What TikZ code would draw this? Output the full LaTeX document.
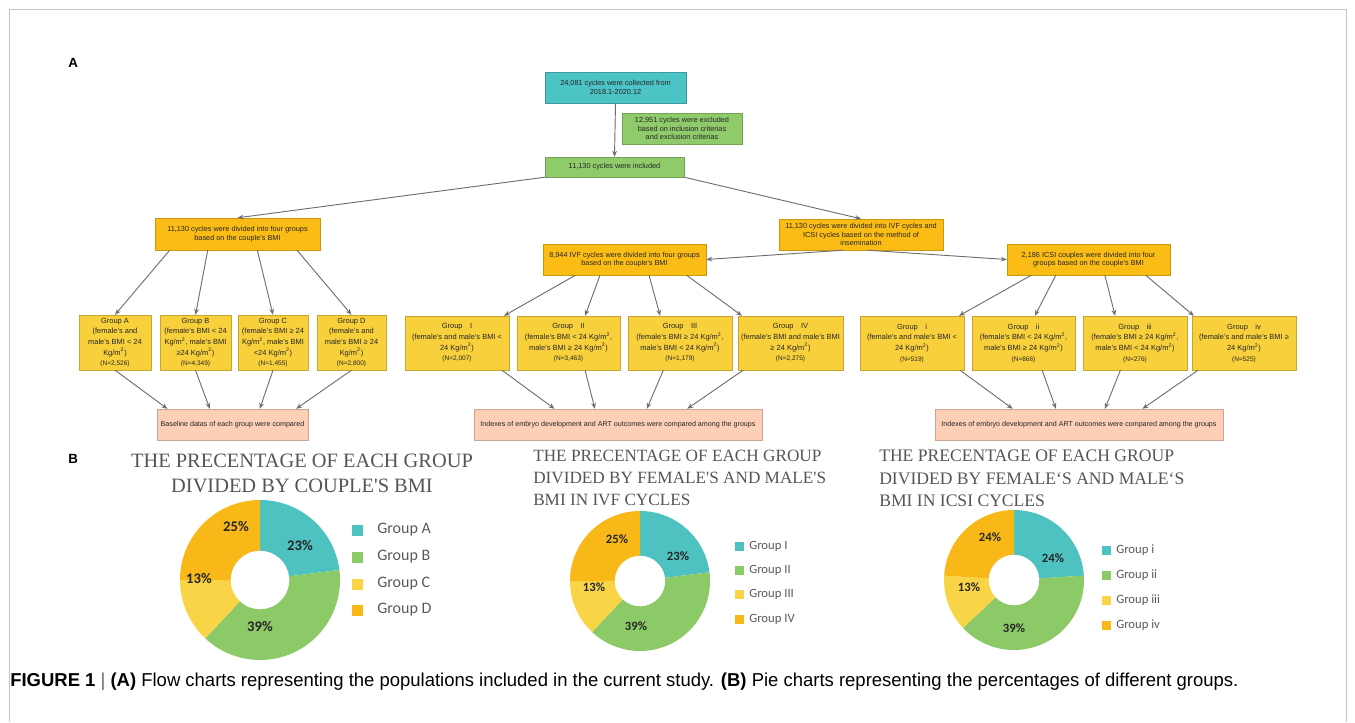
\documentclass[tikz,border=0pt]{standalone}
\usepackage{fontspec}
\setmainfont{Liberation Sans}
\newfontfamily\serifT{Liberation Serif}
\newfontfamily\carl{Carlito}
\usetikzlibrary{arrows.meta,calc}
\definecolor{cteal}{HTML}{4CC3C4}
\definecolor{cgreen}{HTML}{8FCB6B}
\definecolor{corange}{HTML}{FBBD15}
\definecolor{cyellow}{HTML}{F8D03C}
\definecolor{csalmon}{HTML}{FCCFB6}
\definecolor{carrow}{HTML}{6F6F6F}
\definecolor{pteal}{HTML}{4EC2C0}
\definecolor{pgreen}{HTML}{8CC967}
\definecolor{pyellow}{HTML}{F9D446}
\definecolor{porange}{HTML}{F8B817}
\definecolor{ttl}{HTML}{555555}
\definecolor{frame}{HTML}{C4C4C4}
\newcommand\sq{\textsuperscript{2}}
\tikzset{
  box/.style={draw=#1!80!black, fill=#1, line width=0.3pt, inner sep=0.5pt, align=center,
    font=\fontsize{5.5}{6.5}\selectfont, text=black!85},
  gbox/.style={box=cyellow, font=\fontsize{5.6}{8}\selectfont},
  rbox/.style={box=csalmon, font=\fontsize{5.35}{7}\selectfont},
  arr/.style={draw=carrow, line width=0.7pt, -{Stealth[length=4.5pt,width=3.6pt]}},
  pct/.style={font=\carl\bfseries\fontsize{#1}{#1}\selectfont, text=black!85},
  legtxt/.style={font=\carl\fontsize{#1}{#1}\selectfont, text=black!65, anchor=west, inner sep=0pt},
  ptitle/.style={font=\serifT\fontsize{#1}{#1}\selectfont, text=ttl, inner sep=0pt},
}
\newcommand\bx[7]{\node[#6, minimum width={(#4-#2)*0.75pt}, minimum height={(#5-#3)*0.75pt}] (#1) at ({(#2+#4)/2},{(#3+#5)/2}) {#7};}
\newcommand\slice[5]{\fill[#5] (#3:#1) arc[start angle=#3, end angle=#4, radius=#1] -- (#4:#2) arc[start angle=#4, end angle=#3, radius=#2] -- cycle;}
\newcommand\fr[3]{($(#1.#2 west)!#3!(#1.#2 east)$)}
\newcommand\nn[1]{{\fontsize{4.9}{5.5}\selectfont #1}}
\begin{document}
\begin{tikzpicture}[x=0.75pt,y=-0.75pt]
\useasboundingbox (0,0) rectangle (1355,722);
% frame
\draw[frame, line width=0.75pt] (9,722) -- (9,9) -- (1346,9) -- (1346,722);
% panel labels
\node[font=\bfseries\fontsize{10}{10}\selectfont, anchor=base west, inner sep=0pt] (labA) at (68,67) {A};
\node[font=\bfseries\fontsize{10}{10}\selectfont, anchor=base west, inner sep=0pt] (labB) at (68,463) {B};

% ---------- flow chart ----------
\bx{top}{545}{72}{686}{103}{box=cteal}{24,081 cycles were collected from\\2018.1-2020.12}
\bx{excl}{622}{113}{742}{144}{box=cgreen}{12,951 cycles were excluded\\based on inclusion criterias\\and exclusion criterias}
\bx{incl}{545}{157}{684}{177}{box=cgreen}{11,130 cycles were included}
\bx{div}{155}{218}{320}{250}{box=corange}{11,130 cycles were divided into four groups\\based on the couple's BMI}
\bx{ivi}{779}{219}{943}{250}{box=corange}{11,130 cycles were divided into IVF cycles and\\ICSI cycles based on the method of\\insemination}
\bx{ivf}{543}{244}{706}{275}{box=corange}{8,944 IVF cycles were divided into four groups\\based on the couple's BMI}
\bx{icsi}{1007}{244}{1170}{275}{box=corange}{2,186 ICSI couples were divided into four\\groups based on the couple's BMI}

% left groups
\bx{gA}{79}{315}{151}{370}{gbox}{Group A\\(female's and\\male's BMI < 24\\Kg/m\sq)\\\nn{(N=2,526)}}
\bx{gB}{160}{315}{231}{370}{gbox}{Group B\\(female's BMI < 24\\Kg/m\sq, male's BMI\\≥24 Kg/m\sq)\\\nn{(N=4,349)}}
\bx{gC}{238}{315}{308}{370}{gbox}{Group C\\(female's BMI ≥ 24\\Kg/m\sq, male's BMI\\<24 Kg/m\sq)\\\nn{(N=1,455)}}
\bx{gD}{317}{315}{386}{370}{gbox}{Group D\\(female's and\\male's BMI ≥ 24\\Kg/m\sq)\\\nn{(N=2,800)}}
% middle groups
\bx{gI}{405}{316}{509}{370}{gbox}{Group\quad I\\(female's and male's BMI <\\24 Kg/m\sq)\\\nn{(N=2,007)}}
\bx{gII}{517}{316}{620}{370}{gbox}{Group\quad II\\(female's BMI < 24 Kg/m\sq,\\male's BMI ≥ 24 Kg/m\sq)\\\nn{(N=3,463)}}
\bx{gIII}{628}{316}{732}{370}{gbox}{Group\quad III\\(female's BMI ≥ 24 Kg/m\sq,\\male's BMI < 24 Kg/m\sq)\\\nn{(N=1,179)}}
\bx{gIV}{738}{316}{843}{370}{gbox}{Group\quad IV\\(female's BMI and male's BMI\\≥ 24 Kg/m\sq)\\\nn{(N=2,275)}}
% right groups
\bx{gi}{860}{316}{964}{370}{gbox}{Group\quad i\\(female's and male's BMI <\\24 Kg/m\sq)\\\nn{(N=519)}}
\bx{gii}{972}{316}{1075}{370}{gbox}{Group\quad ii\\(female's BMI < 24 Kg/m\sq,\\male's BMI ≥ 24 Kg/m\sq)\\\nn{(N=866)}}
\bx{giii}{1083}{316}{1187}{370}{gbox}{Group\quad iii\\(female's BMI ≥ 24 Kg/m\sq,\\male's BMI < 24 Kg/m\sq)\\\nn{(N=276)}}
\bx{giv}{1192}{316}{1296}{370}{gbox}{Group\quad iv\\(female's and male's BMI ≥\\24 Kg/m\sq)\\\nn{(N=525)}}

% result boxes
\bx{base}{157}{409}{308}{440}{rbox}{Baseline datas of each group were compared}
\bx{idxM}{474}{409}{762}{440}{rbox}{Indexes of embryo development and ART outcomes were compared among the groups}
\bx{idxR}{935}{409}{1223}{440}{rbox}{Indexes of embryo development and ART outcomes were compared among the groups}

% connectors
\draw[arr] (top.south) -- (incl.north);
\draw[arr] (incl.south west) -- (div.north);
\draw[arr] (incl.south east) -- (ivi.north);
\draw[arr] \fr{ivi}{south}{0.39} -- (ivf.east);
\draw[arr] \fr{ivi}{south}{0.54} -- (icsi.west);

\draw[arr] \fr{div}{south}{0.09} -- (gA.north);
\draw[arr] \fr{div}{south}{0.32} -- (gB.north);
\draw[arr] \fr{div}{south}{0.62} -- (gC.north);
\draw[arr] \fr{div}{south}{0.86} -- (gD.north);
\draw[arr] (gA.south) -- \fr{base}{north}{0.07};
\draw[arr] (gB.south) -- \fr{base}{north}{0.35};
\draw[arr] (gC.south) -- \fr{base}{north}{0.68};
\draw[arr] (gD.south) -- \fr{base}{north}{0.92};

\draw[arr] \fr{ivf}{south}{0.2} -- \fr{gI}{north}{0.95};
\draw[arr] \fr{ivf}{south}{0.35} -- \fr{gII}{north}{0.66};
\draw[arr] \fr{ivf}{south}{0.65} -- \fr{gIII}{north}{0.31};
\draw[arr] \fr{ivf}{south}{0.88} -- \fr{gIV}{north}{0.04};
\draw[arr] \fr{gI}{south}{0.93} -- \fr{idxM}{north}{0.28};
\draw[arr] \fr{gII}{south}{0.66} -- \fr{idxM}{north}{0.42};
\draw[arr] \fr{gIII}{south}{0.34} -- \fr{idxM}{north}{0.60};
\draw[arr] \fr{gIV}{south}{0.05} -- \fr{idxM}{north}{0.74};

\draw[arr] \fr{icsi}{south}{0.15} -- \fr{gi}{north}{0.95};
\draw[arr] \fr{icsi}{south}{0.3} -- \fr{gii}{north}{0.61};
\draw[arr] \fr{icsi}{south}{0.6} -- \fr{giii}{north}{0.31};
\draw[arr] \fr{icsi}{south}{0.85} -- \fr{giv}{north}{0.02};
\draw[arr] \fr{gi}{south}{0.96} -- \fr{idxR}{north}{0.27};
\draw[arr] \fr{gii}{south}{0.68} -- \fr{idxR}{north}{0.42};
\draw[arr] \fr{giii}{south}{0.36} -- \fr{idxR}{north}{0.59};
\draw[arr] \fr{giv}{south}{0.06} -- \fr{idxR}{north}{0.72};

% ---------- pie charts ----------
\node[ptitle=15.3, align=center] (t1) at (302,473) {THE PRECENTAGE OF EACH GROUP\\[3.5pt]DIVIDED BY COUPLE'S BMI};
\node[ptitle=12.9, align=left, anchor=north west] (t2) at (533,450) {THE PRECENTAGE OF EACH GROUP\\[3.5pt]DIVIDED BY FEMALE'S AND MALE'S\\[3.5pt]BMI IN IVF CYCLES};
\node[ptitle=13.2, align=left, anchor=north west] (t3) at (879,450) {THE PRECENTAGE OF EACH GROUP\\[3.5pt]DIVIDED BY FEMALE‘S AND MALE‘S\\[3.5pt]BMI IN ICSI CYCLES};

% left pie
\begin{scope}[shift={(260,580)}]
\slice{60pt}{22pt}{90}{7.2}{pteal}
\slice{60pt}{22pt}{7.2}{-133.2}{pgreen}
\slice{60pt}{22pt}{-133.2}{-180}{pyellow}
\slice{60pt}{22pt}{-180}{-270}{porange}
\end{scope}
\node[pct=11] (p1a) at (300,545) {23\%};
\node[pct=11] (p1b) at (260,626) {39\%};
\node[pct=11] (p1c) at (199,578) {13\%};
\node[pct=11] (p1d) at (236,526) {25\%};

% middle pie
\begin{scope}[shift={(640,581)}]
\slice{52.5pt}{19pt}{90}{7.2}{pteal}
\slice{52.5pt}{19pt}{7.2}{-133.2}{pgreen}
\slice{52.5pt}{19pt}{-133.2}{-180}{pyellow}
\slice{52.5pt}{19pt}{-180}{-270}{porange}
\end{scope}
\node[pct=9.5] (p2d) at (617,539) {25\%};
\node[pct=9.5] (p2a) at (678,556) {23\%};
\node[pct=9.5] (p2c) at (594,587) {13\%};
\node[pct=9.5] (p2b) at (636,626) {39\%};

% right pie
\begin{scope}[shift={(1014,580)}]
\slice{52.5pt}{19pt}{90}{3.6}{pteal}
\slice{52.5pt}{19pt}{3.6}{-136.8}{pgreen}
\slice{52.5pt}{19pt}{-136.8}{-183.6}{pyellow}
\slice{52.5pt}{19pt}{-183.6}{-270}{porange}
\end{scope}
\node[pct=9.5] (p3d) at (990,537) {24\%};
\node[pct=9.5] (p3a) at (1053,558) {24\%};
\node[pct=9.5] (p3c) at (969,587) {13\%};
\node[pct=9.5] (p3b) at (1014,628) {39\%};

% legends
\foreach \y/\c/\t [count=\i] in {530/pteal/Group A, 557/pgreen/Group B, 584/pyellow/Group C, 610/porange/Group D}{
  \fill[\c] (352,\y-5.5) rectangle (363,\y+5.5);
  \node[legtxt=12] (l1\i) at (377,\y) {\t};
}
\foreach \y/\c/\t [count=\i] in {546/pteal/Group I, 570/pgreen/Group II, 594/pyellow/Group III, 619/porange/Group IV}{
  \fill[\c] (735,\y-4.5) rectangle (744,\y+4.5);
  \node[legtxt=9.5] (l2\i) at (749,\y) {\t};
}
\foreach \y/\c/\t [count=\i] in {550/pteal/Group i, 575/pgreen/Group ii, 600/pyellow/Group iii, 625/porange/Group iv}{
  \fill[\c] (1102,\y-4.5) rectangle (1111,\y+4.5);
  \node[legtxt=9.5] (l3\i) at (1116,\y) {\t};
}

% caption
\node[anchor=base west, inner sep=0pt] (cap) at (10,686) {\resizebox{921pt}{\height}{\fontsize{14}{16}\selectfont\textbf{FIGURE 1} {\color{black!60}|} \textbf{(A)} Flow charts representing the populations included in the current study. \textbf{(B)} Pie charts representing the percentages of different groups.}};
\end{tikzpicture}
\end{document}
